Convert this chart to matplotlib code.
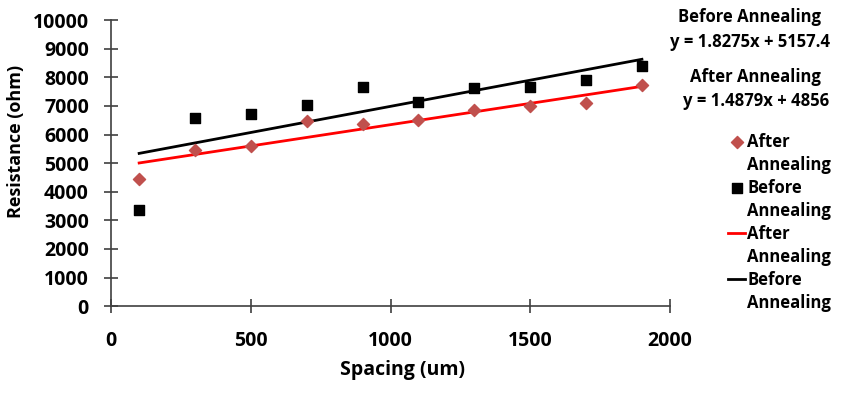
import numpy as np
import matplotlib.pyplot as plt
from matplotlib.lines import Line2D

plt.rcParams['font.family'] = ['Open Sans', 'DejaVu Sans']
plt.rcParams['font.weight'] = 'bold'

# data
spacing = [100, 300, 500, 700, 900, 1100, 1300, 1500, 1700, 1900]
before = [3357, 6585, 6703, 7017, 7647, 7144, 7611, 7647, 7914, 8381]
after = [4429, 5455, 5606, 6468, 6364, 6503, 6842, 6993, 7098, 7739]

# trend line coefficients (slope, intercept) as shown on the chart
before_fit = [1.8275, 5157.4]
after_fit = [1.4879, 4856]

fig = plt.figure(figsize=(8.49, 3.94), dpi=100)
ax = fig.add_axes([0.131, 0.223, 0.658, 0.726])

h1 = ax.scatter(spacing, after, marker='D', s=38, color='#c0504d', zorder=3)
h2 = ax.scatter(spacing, before, marker='s', s=50, color='black', zorder=3)

xs = np.array([spacing[0], spacing[-1]])
h3, = ax.plot(xs, after_fit[0] * xs + after_fit[1], color='red', lw=2)
h4, = ax.plot(xs, before_fit[0] * xs + before_fit[1], color='black', lw=2)

ax.set_xlim(0, 2000)
ax.set_ylim(0, 10000)
ax.set_xticks(range(0, 2001, 500))
ax.set_yticks(range(0, 10001, 1000))
for s in ['top', 'right']:
    ax.spines[s].set_visible(False)
for s in ['left', 'bottom']:
    ax.spines[s].set_color('#404040')
    ax.spines[s].set_linewidth(1.2)
ax.tick_params(direction='inout', length=10, width=1.2, color='#404040', labelsize=14)
ax.tick_params(axis='x', pad=13)
ax.tick_params(axis='y', pad=11)
for lab in ax.get_xticklabels() + ax.get_yticklabels():
    lab.set_fontweight('bold')

ax.set_xlabel('Spacing (um)', fontsize=14, fontweight='bold')
ax.xaxis.set_label_coords(0.522, -0.19)
ax.set_ylabel('Resistance (ohm)', fontsize=13, fontweight='bold')
ax.yaxis.set_label_coords(-0.154, 0.577)

fig.text(0.883, 0.925, 'Before Annealing\ny = 1.8275x + 5157.4', ha='center', va='center',
         fontsize=12, fontweight='bold', linespacing=1.45)
fig.text(0.89, 0.775, 'After Annealing\ny = 1.4879x + 4856', ha='center', va='center',
         fontsize=12, fontweight='bold', linespacing=1.45)

# legend: wrapped labels, marker next to the first line of each entry
blank = Line2D([], [], linestyle='none')
handles = [h1, blank, h2, blank, h3, blank, h4, blank]
labels = ['After', 'Annealing', 'Before', 'Annealing', 'After', 'Annealing', 'Before', 'Annealing']
leg = fig.legend(handles, labels, loc='upper left', bbox_to_anchor=(0.85, 0.68), frameon=False,
                 fontsize=12, handlelength=1.0, handletextpad=0.15, labelspacing=0.3,
                 borderaxespad=0)
for t in leg.get_texts():
    t.set_fontweight('bold')

fig.savefig('out.png', dpi=100)
